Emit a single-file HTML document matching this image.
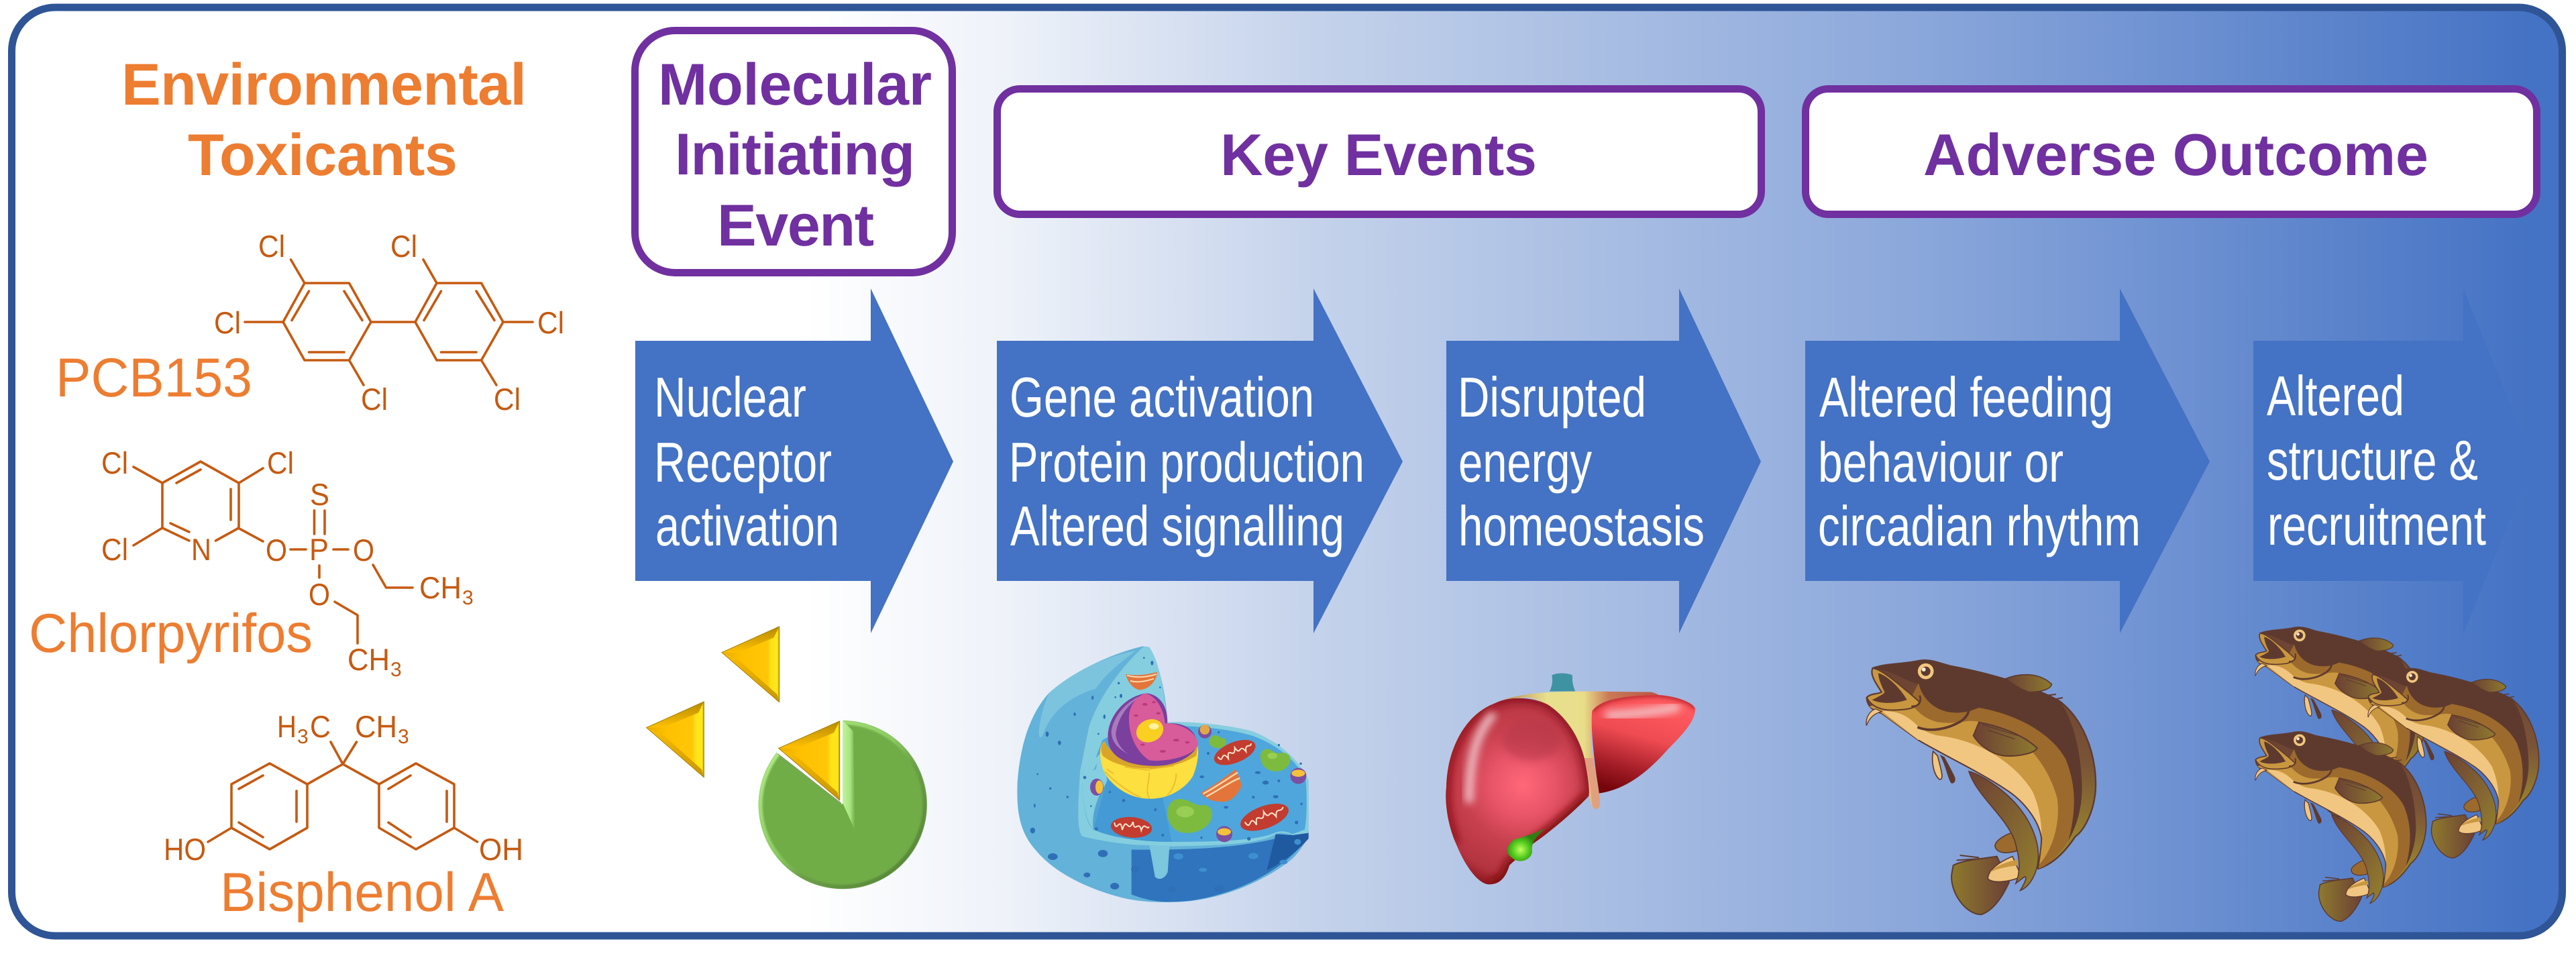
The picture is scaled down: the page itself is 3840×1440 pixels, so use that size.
<!DOCTYPE html>
<html lang="en">
<head>
<meta charset="utf-8">
<title>Adverse Outcome Pathway</title>
<style>
html,body{margin:0;padding:0;background:#fff;width:3840px;height:1440px;overflow:hidden}
svg{display:block}
text{font-family:"Liberation Sans",Arial,sans-serif;text-rendering:geometricPrecision}
.hd{font-size:88px;font-weight:700;fill:#7030A0}
.tx{font-size:88px;font-weight:700;fill:#ED7D31}
.ar{font-size:84px;fill:#fff}
.nm{font-size:82px;fill:#ED7D31}
.ch{font-size:46px;fill:#C55A11}
.sb{font-size:30px;fill:#C55A11}
.ln{stroke:#C55A11;stroke-width:3.6;fill:none;stroke-linecap:round;stroke-linejoin:round}
</style>
</head>
<body>
<svg xmlns="http://www.w3.org/2000/svg" width="3840" height="1440" viewBox="0 0 3840 1440">
<defs>
<linearGradient id="bg" gradientUnits="userSpaceOnUse" x1="1200" y1="0" x2="3780" y2="0">
<stop offset="0" stop-color="#fff"/><stop offset=".116" stop-color="#EEF2F9"/><stop offset=".29" stop-color="#C5D3EB"/><stop offset=".659" stop-color="#88A5DA"/><stop offset="1" stop-color="#4472C4"/>
</linearGradient>
<filter id="b4" x="-20%" y="-20%" width="140%" height="140%"><feGaussianBlur stdDeviation="4"/></filter>
<filter id="b10" x="-30%" y="-30%" width="160%" height="160%"><feGaussianBlur stdDeviation="10"/></filter>
<filter id="b18" x="-30%" y="-30%" width="160%" height="160%"><feGaussianBlur stdDeviation="18"/></filter>
<linearGradient id="tri" x1="0" y1="0" x2="1" y2="0">
<stop offset="0" stop-color="#E8AE00"/><stop offset=".35" stop-color="#FFC000"/><stop offset=".8" stop-color="#FFC708"/><stop offset=".86" stop-color="#FFE31A"/><stop offset=".97" stop-color="#FFE81A"/><stop offset="1" stop-color="#B98C00"/>
</linearGradient>
<linearGradient id="triT" x1="0" y1="0" x2="0" y2="1"><stop offset="0" stop-color="#B68A00"/><stop offset="1" stop-color="#FFC000"/></linearGradient>
<linearGradient id="triB" x1="0" y1="0" x2="1" y2="1"><stop offset="0" stop-color="#FFC000"/><stop offset="1" stop-color="#C89600"/></linearGradient>
<g id="tr">
<polygon points="635,42 378,158 635,380" fill="url(#tri)"/>
<polygon points="635,42 378,158 450,158 610,92" fill="url(#triT)"/>
<polygon points="378,158 635,380 625,345 460,198" fill="url(#triB)"/>
<polygon points="635,42 378,158 635,380" fill="none" stroke="#A58000" stroke-width="3"/>
</g>
<linearGradient id="pieS" x1="0" y1="0" x2="1" y2="0"><stop offset="0" stop-color="#C2F59A"/><stop offset=".6" stop-color="#A9E583"/><stop offset="1" stop-color="#70AD47"/></linearGradient>
<linearGradient id="pieR" x1="0" y1="0" x2="1" y2="1"><stop offset="0" stop-color="#BDF594"/><stop offset=".45" stop-color="#8CCB62"/><stop offset=".6" stop-color="#6b9f48"/><stop offset="1" stop-color="#4f7d33"/></linearGradient>
<clipPath id="pieC"><path d="M918 462A377 377 0 1 1 625 603L918 838Z"/></clipPath>

<linearGradient id="fG" x1="0" y1="0" x2="1" y2="0"><stop offset="0" stop-color="#6B4034"/><stop offset="1" stop-color="#8E7A2E"/></linearGradient>
<linearGradient id="fT" x1="0" y1="0" x2="1" y2="0"><stop offset="0" stop-color="#8E7A2E"/><stop offset="1" stop-color="#6B4034"/></linearGradient>
<linearGradient id="fS" x1="0" y1="0" x2="1" y2="1"><stop offset="0" stop-color="#6B4034"/><stop offset="1" stop-color="#94802F"/></linearGradient>
<linearGradient id="fB" x1="0" y1="0" x2="0" y2="1"><stop offset="0" stop-color="#6B4034"/><stop offset=".5" stop-color="#7A5436"/><stop offset=".85" stop-color="#96802F"/></linearGradient>
<g id="fish">
<path d="M485 990C530 965 620 960 680 950L735 1065C710 1120 670 1190 610 1210C540 1210 470 1110 478 1030Z" fill="url(#fT)" stroke="#5E3A2E" stroke-width="6"/>
<path d="M500 967L610 960M515 945L600 955" stroke="#5E3A2E" stroke-width="6" fill="none"/>
<path d="M760 840C720 850 670 880 672 905C680 935 720 940 770 925Z" fill="#9C6A2D" stroke="#5E3A2E" stroke-width="5"/>
<path d="M640 1050C640 1010 690 975 750 950L790 1040C730 1068 660 1070 640 1050Z" fill="#F1C680" stroke="#5E3A2E" stroke-width="5"/>
<path d="M650 1020C670 995 720 975 770 965L775 990C730 995 680 1005 650 1020Z" fill="#C9973F"/>
<path d="M395 480C385 530 400 590 425 606C445 605 430 560 415 500Z" fill="#F1C680" stroke="#5E3A2E" stroke-width="5"/>
<path d="M425 495C450 540 460 600 475 622C490 628 500 610 490 590C475 560 460 530 445 505Z" fill="#5E3A2E"/>
<path d="M125 108C190 85 270 90 330 75C380 65 420 85 470 98C640 130 820 180 960 255C1060 330 1125 480 1122 640C1118 740 1075 830 1030 862C985 930 930 985 865 1005C860 990 880 940 880 870C870 790 800 700 720 650C600 570 450 500 330 430L165 310C130 300 100 280 98 240C115 220 150 225 165 215C135 170 112 135 125 108Z" fill="url(#fB)" stroke="#5E3A2E" stroke-width="7"/>
<path d="M125 108C190 85 270 90 330 75C380 65 420 85 470 98C640 130 820 180 960 255C1020 330 1055 480 1060 620C1065 720 1040 810 1000 880C1030 760 1040 650 990 520C940 420 800 320 600 285C570 300 560 330 520 350C440 330 370 300 330 180C280 170 220 120 125 108Z" fill="#5E3A2E"/>
<path d="M330 175C350 260 430 330 560 300L600 285C800 320 940 420 990 520C1040 650 1030 760 1000 880C960 940 910 990 865 1005C880 940 880 870 880 870C870 790 800 700 720 650C600 570 450 500 330 430L260 310Z" fill="#9C6A2D"/>
<path d="M250 230C300 250 320 330 420 350C500 360 540 340 580 345C760 360 900 510 950 690C965 800 930 920 870 985C880 940 880 870 880 870C870 790 800 700 720 650C600 570 450 500 330 430L165 310L110 280Z" fill="#C9973F"/>
<path d="M165 300C230 300 270 310 330 370C370 400 400 405 420 410C600 430 760 530 840 660C885 760 890 880 865 960C880 900 880 870 880 870C870 790 800 700 720 650C600 570 450 500 330 430Z" fill="#F1C680"/>
<path d="M330 430C450 500 600 570 720 650C800 700 870 790 880 870C880 930 860 990 865 1005" fill="none" stroke="#5E3A2E" stroke-width="5"/>
<path d="M555 570C600 580 700 640 770 720C830 790 870 880 865 960C862 1020 830 1085 785 1102C810 1060 815 1040 805 1040L765 1070C790 1010 780 950 760 880C720 770 590 680 555 570Z" fill="url(#fS)" stroke="#5E3A2E" stroke-width="5"/>
<path d="M720 155C780 130 870 125 925 180C920 205 870 215 825 215C790 205 750 180 720 155Z" fill="url(#fG)" stroke="#5E3A2E" stroke-width="5"/>
<path d="M860 235L945 225M925 250L975 240" stroke="#5E3A2E" stroke-width="6"/>
<path d="M98 240C115 220 150 225 165 215C135 170 112 135 125 108C170 115 240 180 290 220L335 260C320 285 290 290 270 292C200 300 130 300 98 240Z" fill="#C9973F" stroke="#5E3A2E" stroke-width="6"/>
<path d="M150 130C190 140 250 200 278 250C220 268 160 268 122 250C150 235 175 225 178 215C160 180 150 150 150 130Z" fill="#5E3A2E"/>
<path d="M325 372C380 395 460 382 520 345C555 320 565 290 545 250" fill="none" stroke="#5E3A2E" stroke-width="11"/>
<path d="M298 278C330 282 345 258 335 230" fill="none" stroke="#5E3A2E" stroke-width="8"/>
<path d="M575 410L600 350C680 365 790 400 860 465C850 490 770 505 710 500C650 490 600 450 575 410Z" fill="url(#fG)" stroke="#5E3A2E" stroke-width="6"/>
<path d="M615 360L775 410M640 385L760 425" stroke="#5E3A2E" stroke-width="4" fill="none"/>
<path d="M138 290C110 300 92 330 97 365C110 330 130 312 165 302Z" fill="#F1C680" stroke="#5E3A2E" stroke-width="4"/>
<circle cx="362" cy="122" r="38" fill="#F1C680" stroke="#5E3A2E" stroke-width="5"/>
<circle cx="362" cy="122" r="21" fill="#5E3A2E"/>
<circle cx="353" cy="114" r="9" fill="#F7EAD0"/>
</g>
</defs>

<rect x="17.5" y="11" width="3802" height="1384" rx="65" ry="65" fill="url(#bg)" stroke="#2F5597" stroke-width="11"/>

<!-- header boxes -->
<rect x="946.5" y="45.5" width="473" height="361" rx="60" fill="#fff" stroke="#7030A0" stroke-width="11"/>
<rect x="1486.5" y="132.5" width="1139" height="187" rx="34" fill="#fff" stroke="#7030A0" stroke-width="11"/>
<rect x="2691.5" y="132.5" width="1090" height="187" rx="34" fill="#fff" stroke="#7030A0" stroke-width="11"/>
<text class="hd" x="981" y="156" textLength="408">Molecular</text>
<text class="hd" x="1006" y="260" textLength="358">Initiating</text>
<text class="hd" x="1069" y="366" textLength="234">Event</text>
<text class="hd" x="1819" y="261" textLength="472">Key Events</text>
<text class="hd" x="2867" y="261" textLength="753">Adverse Outcome</text>

<!-- arrows -->
<g fill="#4472C4">
<polygon points="947,508 1298,508 1298,430 1421,688 1298,944 1298,866 947,866"/>
<polygon points="1486,508 1958,508 1958,430 2091,688 1958,944 1958,866 1486,866"/>
<polygon points="2156,508 2503,508 2503,430 2625,688 2503,944 2503,866 2156,866"/>
<polygon points="2691,508 3160,508 3160,430 3294,688 3160,944 3160,866 2691,866"/>
<polygon points="3359,508 3672,508 3672,431 3777,688 3672,944 3672,866 3359,866"/>
</g>
<g class="ar">
<text class="ar" x="975" y="621" textLength="227" lengthAdjust="spacingAndGlyphs">Nuclear</text>
<text class="ar" x="975" y="718" textLength="265" lengthAdjust="spacingAndGlyphs">Receptor</text>
<text class="ar" x="977" y="813" textLength="274" lengthAdjust="spacingAndGlyphs">activation</text>
<text class="ar" x="1505" y="621" textLength="454" lengthAdjust="spacingAndGlyphs">Gene activation</text>
<text class="ar" x="1504" y="718" textLength="530" lengthAdjust="spacingAndGlyphs">Protein production</text>
<text class="ar" x="1506" y="813" textLength="498" lengthAdjust="spacingAndGlyphs">Altered signalling</text>
<text class="ar" x="2173" y="621" textLength="281" lengthAdjust="spacingAndGlyphs">Disrupted</text>
<text class="ar" x="2174" y="718" textLength="199" lengthAdjust="spacingAndGlyphs">energy</text>
<text class="ar" x="2174" y="813" textLength="367" lengthAdjust="spacingAndGlyphs">homeostasis</text>
<text class="ar" x="2712" y="621" textLength="438" lengthAdjust="spacingAndGlyphs">Altered feeding</text>
<text class="ar" x="2710" y="718" textLength="366" lengthAdjust="spacingAndGlyphs">behaviour or</text>
<text class="ar" x="2710" y="813" textLength="481" lengthAdjust="spacingAndGlyphs">circadian rhythm</text>
<text class="ar" x="3379" y="619" textLength="205" lengthAdjust="spacingAndGlyphs">Altered</text>
<text class="ar" x="3379" y="715" textLength="315" lengthAdjust="spacingAndGlyphs">structure &amp;</text>
<text class="ar" x="3380" y="812" textLength="326" lengthAdjust="spacingAndGlyphs">recruitment</text>
</g>

<!-- left titles -->
<text class="tx" x="181" y="156" textLength="604">Environmental</text>
<text class="tx" x="280" y="261" textLength="402">Toxicants</text>
<text class="nm" x="83" y="591" textLength="293" lengthAdjust="spacingAndGlyphs">PCB153</text>
<text class="nm" x="43" y="972" textLength="423" lengthAdjust="spacingAndGlyphs">Chlorpyrifos</text>
<text class="nm" x="328" y="1358" textLength="423" lengthAdjust="spacingAndGlyphs">Bisphenol A</text>

<!-- PCB153 -->
<g class="ln">
<polygon points="454,422 520.5,422 553,480 520.5,537 454,537 422,480"/>
<path d="M460.5 434L435 477.5M513 434L540 477.5M460.5 525H513M553 480H619M454 422L433.5 387M422 480H365M520.5 537L542 574"/>
<polygon points="651,422 717.5,422 750,480 717.5,537 651,537 619,480"/>
<path d="M657.5 434L632 477.5M710 434L737 477.5M657.5 525H710M651 422L631 387M750 480H794M717.5 537L740 574"/>
</g>
<text class="ch" x="385" y="383" textLength="40" lengthAdjust="spacingAndGlyphs">Cl</text>
<text class="ch" x="582" y="383" textLength="40" lengthAdjust="spacingAndGlyphs">Cl</text>
<text class="ch" x="319" y="497" textLength="40" lengthAdjust="spacingAndGlyphs">Cl</text>
<text class="ch" x="801" y="497" textLength="40" lengthAdjust="spacingAndGlyphs">Cl</text>
<text class="ch" x="538" y="611" textLength="40" lengthAdjust="spacingAndGlyphs">Cl</text>
<text class="ch" x="736" y="611" textLength="40" lengthAdjust="spacingAndGlyphs">Cl</text>

<!-- Chlorpyrifos -->
<g class="ln">
<path d="M242 787V720L299 688L356 720V787L321.5 806M242 787L282 806M254 780L282 793M263 720L299 700M344 729V775"/>
<path d="M199 696L242 720M392 698L356 720M199 813L242 787M355 787L392 807M433 819H456M497 819H519M468.5 761V796M484 761V796M476 843V861"/>
<path d="M556 842L575.6 876H615M499 897L533 917V959"/>
</g>
<text class="ch" x="151" y="706" textLength="40" lengthAdjust="spacingAndGlyphs">Cl</text>
<text class="ch" x="398" y="706" textLength="40" lengthAdjust="spacingAndGlyphs">Cl</text>
<text class="ch" x="151" y="835" textLength="40" lengthAdjust="spacingAndGlyphs">Cl</text>
<text class="ch" x="285" y="835" textLength="30" lengthAdjust="spacingAndGlyphs">N</text>
<text class="ch" x="396" y="836" textLength="32" lengthAdjust="spacingAndGlyphs">O</text>
<text class="ch" x="461" y="835" textLength="29" lengthAdjust="spacingAndGlyphs">P</text>
<text class="ch" x="526" y="836" textLength="32" lengthAdjust="spacingAndGlyphs">O</text>
<text class="ch" x="462" y="753" textLength="29" lengthAdjust="spacingAndGlyphs">S</text>
<text class="ch" x="460" y="902" textLength="32" lengthAdjust="spacingAndGlyphs">O</text>
<text class="ch" x="625" y="892" textLength="63" lengthAdjust="spacingAndGlyphs">CH</text>
<text class="sb" x="689" y="901">3</text>
<text class="ch" x="518" y="999" textLength="63" lengthAdjust="spacingAndGlyphs">CH</text>
<text class="sb" x="582" y="1008">3</text>

<!-- BPA -->
<g class="ln">
<polygon points="458,1169 402,1138 345,1169 345,1234 402,1266 458,1234"/>
<polygon points="565,1169 620,1138 677,1169 677,1234 620,1266 565,1234"/>
<path d="M356 1176L392 1156M442 1179V1225M356 1226L392 1248M579 1176L612 1156M666 1179V1225M579 1226L612 1248"/>
<path d="M458 1169L511 1139L565 1169M511 1139L493 1106M511 1139L531.5 1106M345 1234L310 1255M677 1234L711.6 1255"/>
</g>
<text class="ch" x="413" y="1099" textLength="29" lengthAdjust="spacingAndGlyphs">H</text>
<text class="sb" x="443" y="1108">3</text>
<text class="ch" x="462" y="1099" textLength="31" lengthAdjust="spacingAndGlyphs">C</text>
<text class="ch" x="529" y="1099" textLength="63" lengthAdjust="spacingAndGlyphs">CH</text>
<text class="sb" x="593" y="1108">3</text>
<text class="ch" x="244" y="1282" textLength="63" lengthAdjust="spacingAndGlyphs">HO</text>
<text class="ch" x="714" y="1282" textLength="66" lengthAdjust="spacingAndGlyphs">OH</text>

<!-- pie and triangles -->
<g transform="translate(950,920) scale(.33333)">
<use href="#tr"/>
<use href="#tr" transform="translate(-337,336)"/>
<g clip-path="url(#pieC)">
<circle cx="918" cy="838.5" r="377" fill="#70AD47"/>
<circle cx="918" cy="838.5" r="368" fill="none" stroke="url(#pieR)" stroke-width="20" filter="url(#b4)"/>
<polygon points="918,462 966,510 974,955 918,830" fill="url(#pieS)"/>
</g>
<path d="M625 603L918 830" stroke="#fff" stroke-width="5" fill="none"/>
<path d="M628 612L912 832" stroke="#8f9a80" stroke-width="3" fill="none"/>
<use href="#tr" transform="translate(905,465) scale(1.062,1.046) translate(-635,-42)"/>
</g>

<!-- cell -->
<g transform="translate(1500,950) scale(.33333)">
<path d="M610 40C480 70 300 150 190 250C100 350 60 500 50 650C45 780 60 870 130 950C220 1060 380 1130 520 1165C600 1185 720 1190 820 1180C1000 1160 1170 1080 1280 990C1320 950 1350 900 1352 880V640C1300 530 1200 460 1100 420C1000 395 850 375 720 380C720 300 690 120 640 45Z" fill="#63B2D9"/>
<path d="M190 250C280 170 420 90 580 60C500 120 440 170 400 230C300 260 210 320 170 420C140 500 130 400 190 250Z" fill="#88CCE0" opacity=".7"/>
<path d="M560 950C800 950 1050 950 1280 880L1340 900C1300 980 1100 1140 820 1178C700 1190 640 1180 560 1150Z" fill="#2F74BC"/>
<path d="M1205 880L1165 1042C1230 1010 1300 960 1352 900V870L1280 885Z" fill="#1F5AA0"/>
<path d="M640 930L665 1070C680 1090 710 1080 722 1050L730 935Z" fill="#7CC6DE"/>
<path d="M610 45C630 38 640 40 650 60C690 130 710 280 722 380C850 375 1000 395 1100 420C1200 460 1300 530 1352 640V875L1280 885C1250 875 1225 870 1205 880C1140 920 1000 930 740 935L640 930C540 930 420 910 340 890C310 860 325 700 330 600L370 400C420 250 530 120 610 45Z" fill="#85CEDF"/>
<path d="M720 395C850 395 1000 410 1100 440C1210 480 1300 550 1340 640C1345 720 1345 800 1335 860L1280 880C1250 865 1220 865 1200 875C1130 905 990 915 740 915C620 915 480 900 390 860C350 830 335 700 340 600L380 600C390 600 410 570 400 540L430 460L700 300Z" fill="#4FA6DC"/>
<path d="M340 595C350 580 380 600 390 595C410 590 405 560 395 545L440 500L450 640L390 860C350 820 335 700 340 595Z" fill="#85CEDF"/>
<path d="M455 640C400 720 380 800 390 860C480 900 620 915 740 915L700 720Z" fill="#3F95D2" opacity=".75"/>
<path d="M440 465C415 480 415 530 430 580C450 650 540 722 640 722C720 725 800 680 835 620C860 560 862 500 855 480C800 560 700 590 620 580C520 570 460 510 440 465Z" fill="#FDDF3F"/>
<path d="M440 465C420 480 420 510 432 530C500 590 700 620 850 530L858 480C800 560 700 580 620 570C520 560 460 510 440 465Z" fill="#D8A52A"/>
<path d="M450 590L480 610M530 580L640 595M640 590L750 575M440 600C480 640 540 690 600 715M640 605C640 640 620 690 640 720M760 610C760 650 740 690 720 705" stroke="#E9B92C" stroke-width="5" fill="none"/>
<path d="M630 250C530 260 450 360 455 450C455 510 500 570 650 575C780 580 860 510 855 470C840 400 780 380 720 385C725 330 700 260 630 250Z" fill="#7B3F9E"/>
<path d="M620 255C560 280 500 350 490 430C490 470 520 510 560 530C500 500 470 470 470 420C480 350 540 280 620 255Z" fill="#A77BBC"/>
<path d="M625 250C680 270 705 330 710 385C770 380 855 420 858 480C840 530 720 560 640 550C590 520 540 440 550 340C560 290 590 260 625 250Z" fill="#D75C99"/>
<g fill="#B93B7E"><ellipse cx="620" cy="300" rx="12" ry="6"/><ellipse cx="660" cy="290" rx="8" ry="5"/><ellipse cx="580" cy="350" rx="10" ry="5"/><ellipse cx="680" cy="340" rx="10" ry="5"/><ellipse cx="760" cy="460" rx="14" ry="6"/><ellipse cx="810" cy="470" rx="10" ry="5"/><ellipse cx="700" cy="510" rx="14" ry="6"/><ellipse cx="610" cy="480" rx="10" ry="5"/></g>
<ellipse cx="642" cy="418" rx="62" ry="50" transform="rotate(-22 642 418)" fill="#F9CF22"/>
<ellipse cx="660" cy="398" rx="22" ry="14" fill="#FFF3A0"/>
<g fill="#7DBB3E">
<path d="M760 725C820 715 840 760 880 750C930 750 930 810 900 840C860 880 780 890 745 850C710 810 710 740 760 725Z"/>
<path d="M925 440C945 430 955 455 970 450C990 455 990 480 970 490C945 505 905 490 908 465C908 450 915 445 925 440Z"/>
<path d="M1160 500C1190 495 1200 530 1235 515C1280 520 1280 560 1250 585C1220 610 1170 600 1150 575C1130 545 1130 510 1160 500Z"/>
</g>
<ellipse cx="800" cy="780" rx="40" ry="25" fill="#A4D65E" opacity=".7"/>
<ellipse cx="1190" cy="530" rx="22" ry="14" fill="#A4D65E" opacity=".7"/>
<g stroke="#FBE4CC" stroke-width="6" fill="none">
<g transform="rotate(5 560 850)"><ellipse cx="560" cy="850" rx="92" ry="46" fill="#C23C2F" stroke="none"/><path d="M482 835C495 885 505 800 520 865C535 795 545 885 565 825C575 880 590 810 605 860C615 815 630 860 638 840"/></g>
<g transform="rotate(-22 1022 515)"><ellipse cx="1022" cy="515" rx="98" ry="46" fill="#C23C2F" stroke="none"/><path d="M945 505C955 550 970 475 985 530C1000 470 1010 550 1030 495C1040 545 1055 480 1070 530C1080 490 1095 525 1105 505"/></g>
<g transform="rotate(-20 1155 805)"><ellipse cx="1155" cy="805" rx="113" ry="50" fill="#C23C2F" stroke="none"/><path d="M1065 795C1078 850 1095 760 1110 825C1125 755 1140 845 1160 780C1172 835 1188 765 1205 820C1218 775 1232 815 1248 790"/></g>
</g>
<path d="M535 165C590 175 640 165 675 155C675 190 640 235 595 235C565 230 540 195 535 165Z" fill="#E4753A"/>
<path d="M540 170C590 185 640 175 672 165M555 195C590 205 630 195 660 185" stroke="#FBD9B0" stroke-width="6" fill="none"/>
<path d="M870 695C920 670 1000 610 1025 590C1040 620 1055 660 1050 670C1030 710 1000 740 960 735C920 735 890 720 870 695Z" fill="#E4753A"/>
<path d="M880 700C930 675 1000 625 1035 605M895 712C940 690 1010 640 1045 630" stroke="#FBD9B0" stroke-width="7" fill="none"/>
<circle cx="888" cy="422" r="30" fill="#7C4FA0"/><circle cx="888" cy="413" r="22" fill="#F3B73A" opacity=".85"/>
<ellipse cx="405" cy="670" rx="30" ry="38" fill="#7C4FA0"/><ellipse cx="416" cy="670" rx="17" ry="30" fill="#F3C23A"/>
<circle cx="975" cy="880" r="36" fill="#7C4FA0"/><ellipse cx="975" cy="870" rx="30" ry="16" fill="#F3C23A"/>
<circle cx="1306" cy="620" r="36" fill="#7C4FA0"/><ellipse cx="1306" cy="608" rx="30" ry="16" fill="#F3C23A"/>
<g fill="#2F6FB5">
<ellipse cx="652" cy="115" rx="6" ry="10"/><circle cx="616" cy="92" r="4"/><circle cx="503" cy="205" r="5"/><circle cx="688" cy="224" r="4"/><ellipse cx="513" cy="262" rx="6" ry="9"/><circle cx="488" cy="268" r="4"/><ellipse cx="386" cy="270" rx="5" ry="9"/><ellipse cx="306" cy="344" rx="5" ry="8"/><ellipse cx="439" cy="355" rx="5" ry="10"/><ellipse cx="183" cy="433" rx="7" ry="12"/><ellipse cx="238" cy="472" rx="7" ry="10"/><circle cx="412" cy="432" r="4"/><circle cx="140" cy="612" r="4"/><circle cx="197" cy="676" r="5"/><circle cx="274" cy="714" r="5"/><ellipse cx="127" cy="753" rx="4" ry="9"/><circle cx="351" cy="627" r="7"/><circle cx="379" cy="755" r="4"/><circle cx="463" cy="692" r="5"/><ellipse cx="118" cy="864" rx="11" ry="13"/>
<ellipse cx="208" cy="981" rx="22" ry="15"/><ellipse cx="432" cy="967" rx="22" ry="16"/><ellipse cx="575" cy="1037" rx="17" ry="14"/><ellipse cx="361" cy="1063" rx="15" ry="11"/><ellipse cx="485" cy="1113" rx="20" ry="15"/><ellipse cx="743" cy="1127" rx="18" ry="12"/><ellipse cx="953" cy="1124" rx="22" ry="14"/><circle cx="403" cy="857" r="7"/><circle cx="525" cy="730" r="7"/><circle cx="667" cy="771" r="6"/><circle cx="700" cy="885" r="6"/><circle cx="873" cy="896" r="5"/><ellipse cx="875" cy="624" rx="10" ry="6"/><ellipse cx="983" cy="760" rx="10" ry="6"/><circle cx="1105" cy="715" r="6"/><ellipse cx="1205" cy="713" rx="12" ry="7"/><circle cx="1320" cy="745" r="5"/><circle cx="1298" cy="828" r="8"/><circle cx="1085" cy="901" r="8"/><ellipse cx="1160" cy="650" rx="14" ry="9"/><circle cx="1219" cy="642" r="6"/><ellipse cx="1125" cy="605" rx="13" ry="6"/><circle cx="1219" cy="482" r="5"/><circle cx="1317" cy="565" r="5"/><circle cx="903" cy="519" r="6"/><circle cx="950" cy="425" r="5"/>
</g>
<g fill="#3E8FCF"><ellipse cx="770" cy="980" rx="22" ry="14"/><ellipse cx="1105" cy="978" rx="22" ry="14"/><ellipse cx="880" cy="1040" rx="18" ry="9"/><ellipse cx="1240" cy="1005" rx="18" ry="10"/><ellipse cx="1303" cy="915" rx="15" ry="13"/></g>
</g>

<!-- liver -->
<defs>
<radialGradient id="lvL" gradientUnits="userSpaceOnUse" cx="390" cy="540" r="480">
<stop offset="0" stop-color="#FF6878"/><stop offset=".3" stop-color="#E85468"/><stop offset=".55" stop-color="#C8404E"/><stop offset=".85" stop-color="#B33440"/><stop offset="1" stop-color="#8E141A"/>
</radialGradient>
<linearGradient id="lvR" gradientUnits="userSpaceOnUse" x1="920" y1="140" x2="800" y2="560">
<stop offset="0" stop-color="#FF5B60"/><stop offset=".4" stop-color="#EF4B52"/><stop offset=".75" stop-color="#A51E28"/><stop offset="1" stop-color="#76060C"/>
</linearGradient>
<linearGradient id="lvB" gradientUnits="userSpaceOnUse" x1="300" y1="0" x2="960" y2="0">
<stop offset="0" stop-color="#B98A55"/><stop offset=".3" stop-color="#E8E08E"/><stop offset=".55" stop-color="#E8DE8A"/><stop offset=".72" stop-color="#C97A55"/><stop offset="1" stop-color="#BE5A48"/>
</linearGradient>
<radialGradient id="lvG" gradientUnits="userSpaceOnUse" cx="380" cy="830" r="70">
<stop offset="0" stop-color="#C0FF5A"/><stop offset=".55" stop-color="#4FC81C"/><stop offset="1" stop-color="#2E7F12"/>
</radialGradient>
<clipPath id="lvLc"><path d="M265 175C340 140 440 150 500 180C580 230 640 320 665 420C680 490 690 560 685 590C620 660 500 760 440 800C400 840 350 880 330 900C315 950 290 985 240 985C190 985 130 900 90 800C55 720 40 620 48 550C50 400 120 230 265 175Z"/></clipPath>
<clipPath id="lvRc"><path d="M700 210C730 170 800 140 1000 138C1080 145 1150 170 1162 200C1160 250 1120 300 1040 380C960 470 860 560 730 578C720 500 690 300 700 210Z"/></clipPath>
</defs>
<g transform="translate(2140,990) scale(.33333)">
<path d="M520 50C540 38 590 38 612 50C610 80 615 100 625 122H510C520 100 525 80 520 50Z" fill="#3E93A3"/>
<path d="M265 175C360 130 500 120 700 122L965 125C1000 135 1000 140 1000 145L720 215C690 260 690 320 700 400C720 500 735 580 735 630C730 655 705 655 695 625C680 560 665 470 650 400C620 280 520 170 420 150C360 148 310 160 265 175Z" fill="url(#lvB)"/>
<g clip-path="url(#lvRc)">
<rect x="680" y="120" width="500" height="480" fill="url(#lvR)"/>
<path d="M760 230C850 225 980 215 1090 190" stroke="#F3D9DD" stroke-width="38" fill="none" opacity=".85" filter="url(#b18)"/>
<path d="M700 210C730 170 800 140 1000 138C1080 145 1150 170 1162 200" fill="none" stroke="#B02028" stroke-width="18" filter="url(#b10)"/>
</g>
<path d="M665 420C680 480 695 560 700 625C705 655 730 655 735 630C735 580 720 500 705 420Z" fill="#E0A080"/>
<g clip-path="url(#lvLc)">
<rect x="30" y="130" width="680" height="870" fill="url(#lvL)"/>
<ellipse cx="430" cy="340" rx="130" ry="90" fill="#B53848" opacity=".6" filter="url(#b18)"/>
<path d="M265 175C340 140 440 150 500 180C580 230 640 320 665 420C680 490 690 560 685 590" fill="none" stroke="#8E1520" stroke-width="40" filter="url(#b18)"/>
<path d="M685 590C620 660 500 760 440 800C400 840 350 880 330 900C315 950 290 985 240 985" fill="none" stroke="#7E0A10" stroke-width="50" filter="url(#b18)"/>
<path d="M265 175C120 230 50 400 48 550C40 620 55 720 90 800" fill="none" stroke="#8E1018" stroke-width="34" filter="url(#b18)"/>
<path d="M260 220C190 300 150 400 150 620" stroke="#FBE3E6" stroke-width="34" fill="none" opacity=".85" filter="url(#b18)"/>
</g>
<path d="M490 735C450 770 425 800 432 840C425 880 370 895 340 865C305 840 320 810 350 785C400 770 450 755 490 735Z" fill="url(#lvG)"/>
</g>

<!-- fish -->
<g transform="translate(2750,960) scale(.33333)"><use href="#fish"/></g>
<g transform="translate(3338,917) scale(.2483)"><use href="#fish"/></g>
<g transform="translate(3506,978.6) scale(.2483)"><use href="#fish"/></g>
<g transform="translate(3338,1073) scale(.2483)"><use href="#fish"/></g>
</svg>
</body>
</html>
